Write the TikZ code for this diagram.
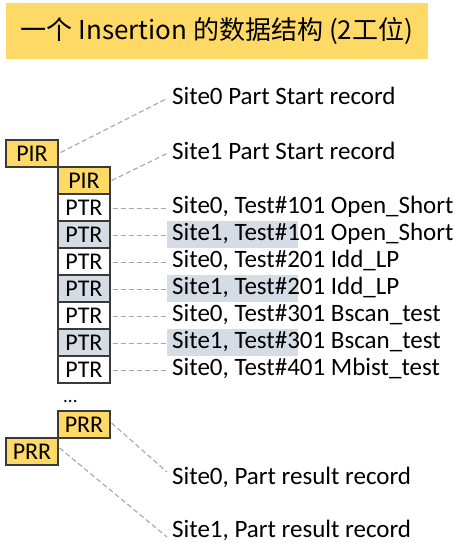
\documentclass[tikz,border=0pt]{standalone}
\usepackage{fontspec}
\setmainfont{Carlito}
\newfontfamily\cjk{Noto Sans CJK SC}
\definecolor{gold}{HTML}{FFD966}
\definecolor{hlgray}{HTML}{D6DCE5}
\definecolor{edge}{HTML}{3A3A3A}
\definecolor{dashgray}{HTML}{A6A6A6}
\begin{document}
\begin{tikzpicture}[x=1pt,y=-1pt,
  rec/.style={draw=edge, line width=1.2pt, minimum width=52pt, minimum height=27pt,
    inner sep=0pt, font=\fontsize{24}{24}\selectfont, text height=16pt, text depth=0pt},
  ylw/.style={rec, fill=gold},
  wht/.style={rec, fill=white},
  gry/.style={rec, fill=hlgray},
  lab/.style={anchor=west, inner xsep=5pt, inner ysep=0pt,
    font=\fontsize{25}{25}\selectfont, text height=19pt, text depth=8pt},
  band/.style={fill=hlgray},
  dline/.style={draw=dashgray, line width=1.1pt, dash pattern=on 5pt off 3pt}]
\useasboundingbox (0,0) rectangle (454,543);

% title banner
\node[fill=gold, minimum width=422pt, minimum height=56pt, inner sep=0pt,
  font=\cjk\fontsize{26}{26}\selectfont] (title) at (217,31) {一个 Insertion 的数据结构 (2工位)};

% record column
\node[ylw] (pir0) at (32,153.5) {PIR};
\node[ylw] (pir1) at (84,180.5) {PIR};
\node[wht] (ptr1) at (84,207.5) {PTR};
\node[gry] (ptr2) at (84,234.5) {PTR};
\node[wht] (ptr3) at (84,261.5) {PTR};
\node[gry] (ptr4) at (84,288.5) {PTR};
\node[wht] (ptr5) at (84,315.5) {PTR};
\node[gry] (ptr6) at (84,342.5) {PTR};
\node[wht] (ptr7) at (84,369.5) {PTR};
\node[anchor=base west, inner sep=0pt, font=\fontsize{19}{19}\selectfont] (dots) at (63,402) {...};
\node[ylw] (prr1) at (84,424.5) {PRR};
\node[ylw] (prr0) at (32,451.5) {PRR};

% grey bands behind the site-1 test rows
\foreach \y in {234.5,288.5,342.5}
  \fill[band] (167,\y-13.5) rectangle (298,\y+13.5);

% descriptions
\node[lab] (l0) at (167,98.5) {Site0 Part Start record};
\node[lab] (l1) at (167,153.5) {Site1 Part Start record};
\node[lab] (t1) at (167,207.5) {Site0, Test\#101 Open\_Short};
\node[lab] (t2) at (167,234.5) {Site1, Test\#101 Open\_Short};
\node[lab] (t3) at (167,261.5) {Site0, Test\#201 Idd\_LP};
\node[lab] (t4) at (167,288.5) {Site1, Test\#201 Idd\_LP};
\node[lab] (t5) at (167,315.5) {Site0, Test\#301 Bscan\_test};
\node[lab] (t6) at (167,342.5) {Site1, Test\#301 Bscan\_test};
\node[lab] (t7) at (167,369.5) {Site0, Test\#401 Mbist\_test};
\node[lab] (r0) at (167,478.5) {Site0, Part result record};
\node[lab] (r1) at (167,531.5) {Site1, Part result record};

% dashed leaders
\draw[dline] ([xshift=2pt,yshift=1pt]pir0.east) -- (l0.west);
\draw[dline] ([xshift=1pt]pir1.east) -- (l1.west);
\foreach \i in {1,...,7}
  \draw[dline] ([xshift=2pt,yshift=-1pt]ptr\i.east) -- ([yshift=-1pt]t\i.west);
\draw[dline] ([xshift=1pt,yshift=1.5pt]prr1.east) -- ([yshift=6.5pt]r0.west);
\draw[dline] ([xshift=1pt,yshift=3.5pt]prr0.east) -- ([yshift=-5.5pt]r1.west);
\end{tikzpicture}
\end{document}
